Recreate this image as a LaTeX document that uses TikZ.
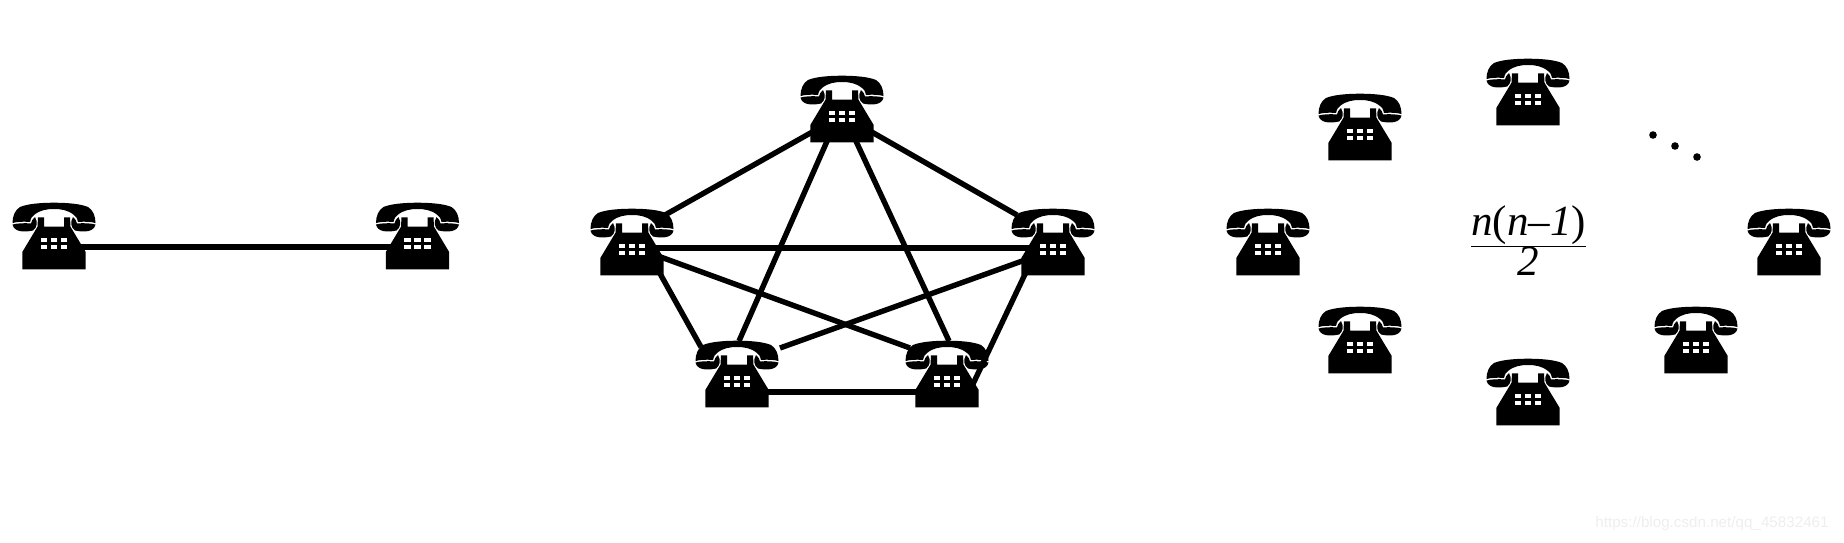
\documentclass[tikz,border=0pt]{standalone}
\usepackage{fontspec}
\setmainfont{Liberation Serif}
\setsansfont{Liberation Sans}
\usetikzlibrary{positioning}
\definecolor{markgray}{HTML}{EEEEEE}

\begin{document}
\begin{tikzpicture}[
  x=0.5pt,y=-0.5pt,
  phone/.style={rectangle,minimum width=44pt,minimum height=34pt,inner sep=0pt,
    path picture={
      \begin{scope}[shift={(path picture bounding box.center)}]
        % handset
        \fill (0,-33.3) .. controls (-14,-33.3) and (-27,-32) .. (-34,-29)
          .. controls (-39,-26) and (-41.5,-20) .. (-41.5,-13)
          .. controls (-36,-14.5) and (-30,-14.5) .. (-24,-14)
          .. controls (-23,-18) and (-22,-20) .. (-20,-21)
          .. controls (-14,-26) and (-7,-27) .. (0,-27)
          .. controls (7,-27) and (14,-26) .. (20,-21)
          .. controls (22,-20) and (23,-18) .. (24,-14)
          .. controls (30,-14.5) and (36,-14.5) .. (41.5,-13)
          .. controls (41.5,-20) and (39,-26) .. (34,-29)
          .. controls (27,-32) and (14,-33.3) .. (0,-33.3) -- cycle;
        \fill (-41.5,-11.5) .. controls (-36,-13) and (-28,-13) .. (-23,-12.5)
          .. controls (-22.5,-15) and (-21.5,-17) .. (-19,-19)
          .. controls (-16,-14) and (-17,-8) .. (-21,-5.5)
          .. controls (-30,-3.5) and (-40,-4) .. (-41.5,-11.5) -- cycle;
        \fill (41.5,-11.5) .. controls (36,-13) and (28,-13) .. (23,-12.5)
          .. controls (22.5,-15) and (21.5,-17) .. (19,-19)
          .. controls (16,-14) and (17,-8) .. (21,-5.5)
          .. controls (30,-3.5) and (40,-4) .. (41.5,-11.5) -- cycle;
        % body
        \fill (-16,-18.7) -- (-10,-18.7) -- (-10,-9.3) -- (10,-9.3) -- (10,-18.7)
          -- (16,-18.7) -- (16.5,-9.3) -- (31.7,16) -- (31.7,33.3) -- (-31.7,33.3)
          -- (-31.7,16) -- (-16.5,-9.3) -- cycle;
        % keys
        \foreach \kx in {-10,0,10}
          \foreach \ky in {4.3,11.1}
            \fill[white] (\kx-3.3,\ky-2.1) rectangle (\kx+3.3,\ky+2.1);
      \end{scope}}},
  wire/.style={line width=2.7pt},
  dotmark/.style={circle,fill,minimum size=3.8pt,inner sep=0pt}
]
\useasboundingbox (0,0) rectangle (1844,542);

% ---- Two phones ---------------------------------------------
\node[phone] (a1) at (54,236)    {};
\node[phone] (a2) at (417.5,236) {};
\draw[wire] ([shift={(26,11)}]a1.center) -- ([shift={(-26,11)}]a2.center);

% ---- Five phones --------------------------------------------
\node[phone] (b1) at (842,109)  {};
\node[phone] (b2) at (632,242)  {};
\node[phone] (b3) at (1053,242) {};
\node[phone] (b4) at (737,374)  {};
\node[phone] (b5) at (947,374)  {};

\draw[wire] ([shift={(-28,22)}]b1.center) -- ([shift={(33,-27)}]b2.center);
\draw[wire] ([shift={(28,22)}]b1.center)  -- ([shift={(-36,-27)}]b3.center);
\draw[wire] ([shift={(-14,30)}]b1.center) -- ([shift={(2,-33)}]b4.center);
\draw[wire] ([shift={(13,30)}]b1.center)  -- ([shift={(2,-33)}]b5.center);
\draw[wire] ([shift={(23,6)}]b2.center)   -- ([shift={(-23,6)}]b3.center);
\draw[wire] ([shift={(26,14)}]b2.center)  -- ([shift={(-37,-26)}]b5.center);
\draw[wire] ([shift={(-28,18)}]b3.center) -- ([shift={(43,-26)}]b4.center);
\draw[wire] ([shift={(26,28)}]b2.center)  -- ([shift={(-36,-27)}]b4.center);
\draw[wire] ([shift={(-26,28)}]b3.center) -- ([shift={(26,10)}]b5.center);
\draw[wire] ([shift={(28,18)}]b4.center)  -- ([shift={(-28,18)}]b5.center);

% ---- Many phones --------------------------------------------
\node[phone] (c1) at (1268,242) {};
\node[phone] (c2) at (1360,127) {};
\node[phone] (c3) at (1528,92)  {};
\node[phone] (c4) at (1789,242) {};
\node[phone] (c5) at (1696,340) {};
\node[phone] (c6) at (1528,392) {};
\node[phone] (c7) at (1360,340) {};

\node[dotmark] (d1) at (1653,135) {};
\node[dotmark] (d2) at (1675,146) {};
\node[dotmark] (d3) at (1697,157) {};

\node[font=\fontsize{21.5}{22}\selectfont] (frac) at (1528.5,241)
  {$\frac{\textit{n}\textup{(}\textit{n--1}\textup{)}}{\textit{2}}$};

% Watermark
\node[font=\sffamily\fontsize{7.6}{8}\selectfont,text=markgray] (mark) at (1712,524)
  {https://blog.csdn.net/qq\_45832461};

\end{tikzpicture}
\end{document}
